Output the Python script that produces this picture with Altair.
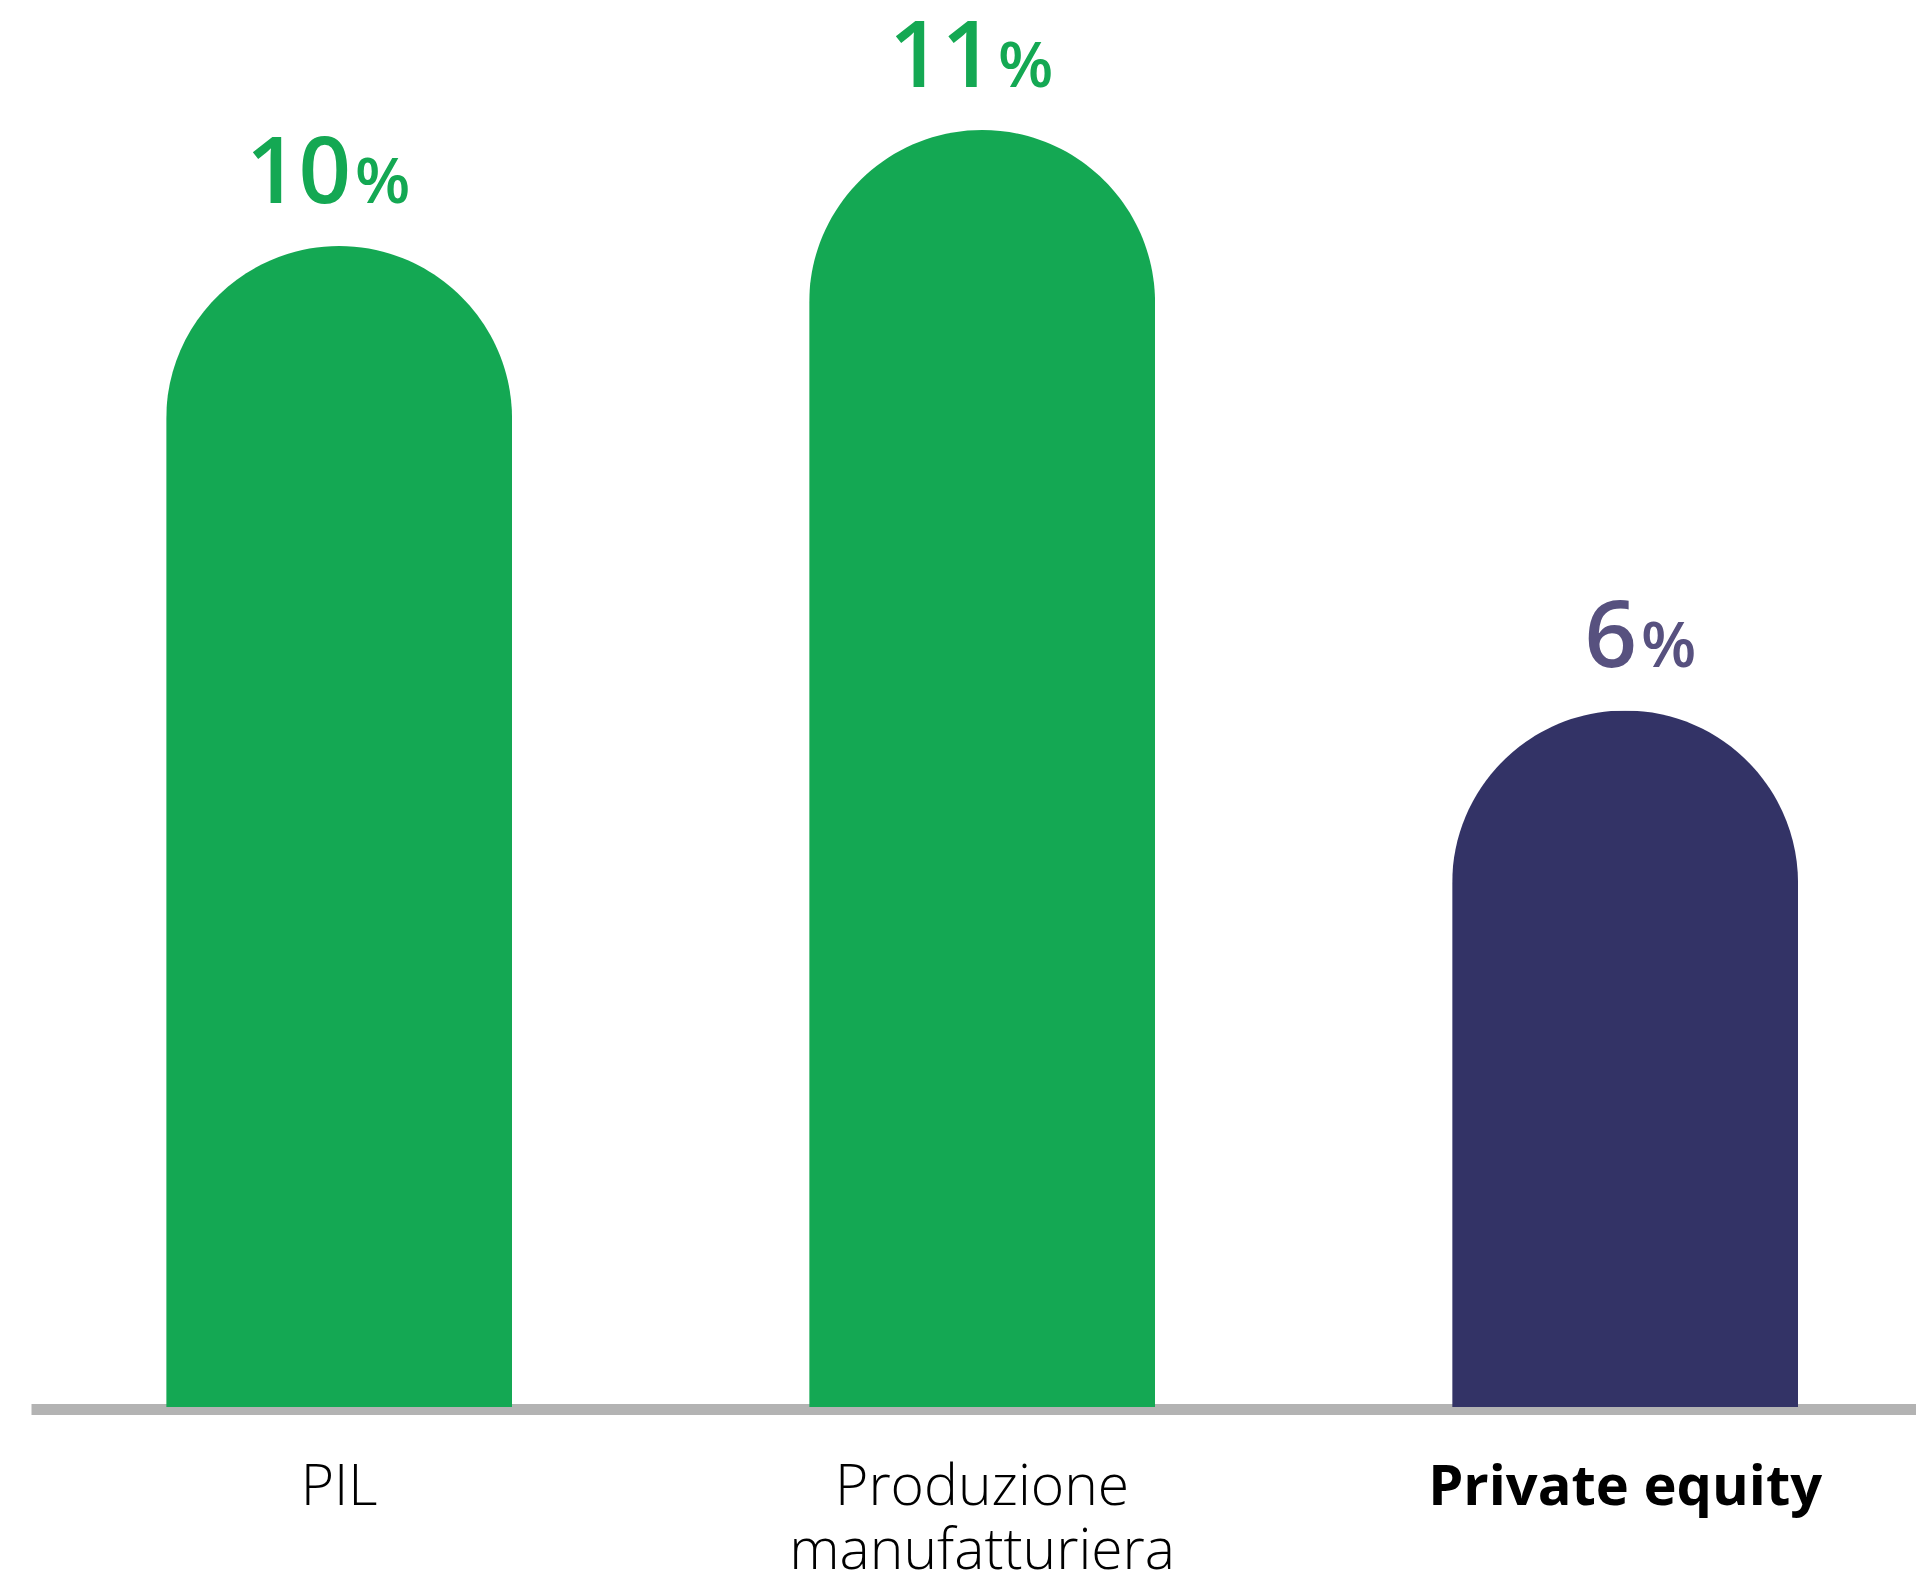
import altair as alt
import pandas as pd

categories = ["PIL", "Produzione\nmanufatturiera", "Private equity"]
values = [10, 11, 6]
highlight = "Private equity"

df = pd.DataFrame({"cat": categories, "value": values})

GREEN = "#14A853"
NAVY = "#333366"
NAVY_TEXT = "#57517F"

x_enc = alt.X(
    "cat:N",
    sort=categories,
    scale=alt.Scale(paddingInner=0.462, paddingOuter=0.1968, align=0.534),
    axis=alt.Axis(
        title=None, labels=False, ticks=False, domain=True,
        domainColor="#B3B3B3", domainWidth=11, offset=2, grid=False,
    ),
)
y_scale = alt.Scale(domain=[0, 12.12], nice=False, zero=True)

base = alt.Chart(df).transform_calculate(
    zero="0", num="toString(datum.value)", pct="'%'"
)

bars = base.mark_bar(
    cornerRadiusTopLeft=173, cornerRadiusTopRight=173
).encode(
    x=x_enc,
    y=alt.Y("value:Q", scale=y_scale, axis=None),
    color=alt.condition(alt.datum.cat == highlight, alt.value(NAVY), alt.value(GREEN)),
)

text_color = alt.condition(alt.datum.cat == highlight, alt.value(NAVY_TEXT), alt.value(GREEN))

nums = base.mark_text(
    align="right", baseline="alphabetic", dx=12, dy=-43,
    font="Open Sans", fontSize=92, fontWeight=600,
).encode(
    x=x_enc,
    y=alt.Y("value:Q", scale=y_scale, axis=None),
    text="num:N",
    color=text_color,
)

pcts = base.mark_text(
    align="left", baseline="alphabetic", dx=16, dy=-43,
    font="Open Sans", fontSize=64, fontWeight=600,
).encode(
    x=x_enc,
    y=alt.Y("value:Q", scale=y_scale, axis=None),
    text="pct:N",
    color=text_color,
)

cat_regular = base.transform_filter(alt.datum.cat != highlight).mark_text(
    align="center", baseline="alphabetic", dy=98, lineBreak="\n", lineHeight=64,
    font="Open Sans", fontSize=57, fontWeight=300, color="#000000",
).encode(
    x=x_enc,
    y=alt.Y("zero:Q", scale=y_scale, axis=None),
    text="cat:N",
)

cat_bold = base.transform_filter(alt.datum.cat == highlight).mark_text(
    align="center", baseline="alphabetic", dy=98,
    font="Open Sans", fontSize=56, fontWeight="bold", color="#000000",
).encode(
    x=x_enc,
    y=alt.Y("zero:Q", scale=y_scale, axis=None),
    text="cat:N",
)

chart = alt.layer(bars, nums, pcts, cat_regular, cat_bold).properties(
    width=1885,
    height=1407,
    autosize=alt.AutoSizeParams(type="none"),
    padding={"left": 31, "top": 0, "right": 0, "bottom": 166},
    background="white",
).configure_view(stroke=None)

chart.save("out.html", embed_options={"renderer": "svg", "actions": False})
